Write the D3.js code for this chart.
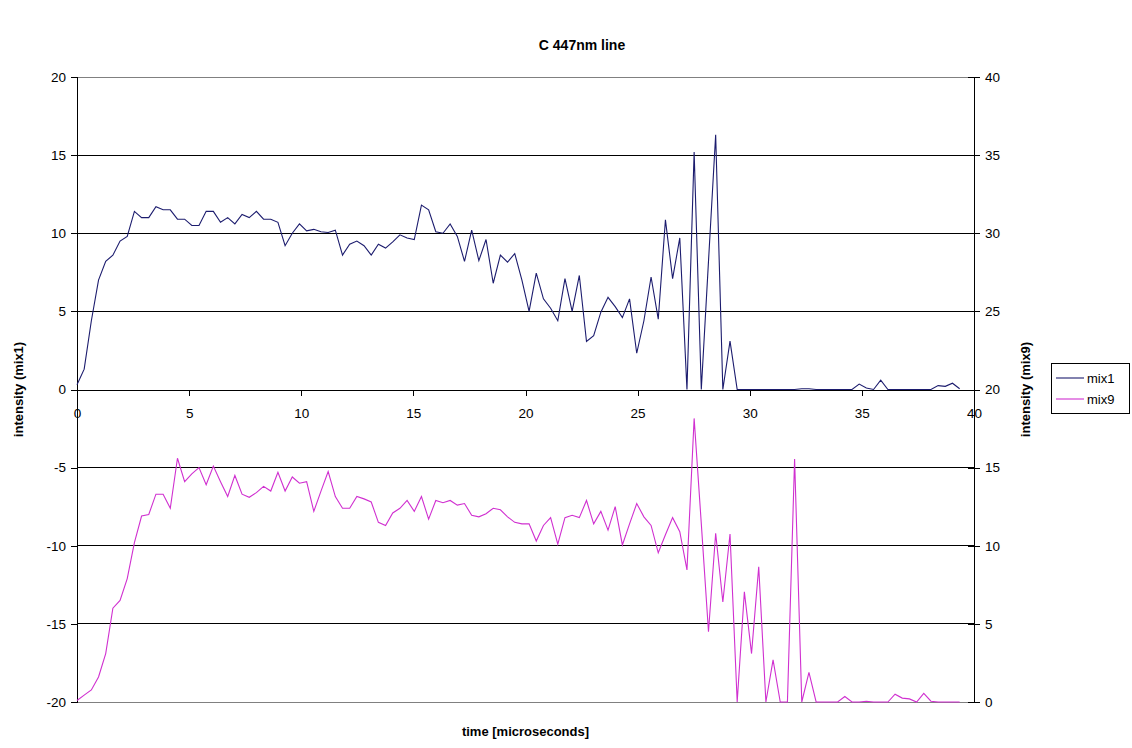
<!DOCTYPE html>
<html>
<head>
<meta charset="utf-8">
<script src="https://cdn.jsdelivr.net/npm/d3@7"></script>
<style>
  body { margin: 0; background: #fff; }
  text { font-family: "Liberation Sans", Arial, sans-serif; fill: #000; }
</style>
</head>
<body>
<div id="my_dataviz"></div>
<script>
// sample spacing (microseconds) and readings
let dt = 0.32;

let mix1 = [0.3, 1.3, 4.4, 7.0, 8.2, 8.6, 9.5, 9.8, 11.4, 11.0,
  11.0, 11.7, 11.5, 11.5, 10.9, 10.9, 10.5, 10.5, 11.4, 11.4,
  10.7, 11.0, 10.6, 11.2, 11.0, 11.4, 10.9, 10.9, 10.7, 9.2,
  10.0, 10.6, 10.15, 10.25, 10.1, 10.05, 10.2, 8.6, 9.3, 9.5,
  9.2, 8.6, 9.3, 9.05, 9.45, 9.9, 9.7, 9.6, 11.8, 11.5,
  10.1, 10.0, 10.6, 9.8, 8.2, 10.2, 8.25, 9.6, 6.8, 8.6,
  8.15, 8.7, 7.0, 5.0, 7.45, 5.8, 5.2, 4.4, 7.1, 5.0,
  7.3, 3.07, 3.45, 4.95, 5.9, 5.3, 4.6, 5.8, 2.32, 4.4,
  7.2, 4.5, 10.86, 7.1, 9.7, 0, 15.2, 0, 8.2, 16.3,
  0, 3.1, 0, 0, 0, 0, 0, 0, 0, 0,
  0, 0.05, 0.05, 0, 0, 0, 0, 0, 0, 0.35,
  0.1, 0, 0.6, 0, 0, 0, 0, 0, 0, 0,
  0.25, 0.2, 0.4, 0.05];

let mix9 = [0.1, 0.44, 0.77, 1.6, 3.1, 6.0, 6.5, 7.9, 10.2, 11.9,
  12.0, 13.3, 13.3, 12.4, 15.6, 14.1, 14.6, 15.0, 13.9, 15.1,
  14.1, 13.15, 14.5, 13.3, 13.1, 13.4, 13.8, 13.5, 14.7, 13.5,
  14.4, 14.0, 14.1, 12.2, 13.5, 14.75, 13.15, 12.4, 12.4, 13.15,
  13.0, 12.8, 11.5, 11.3, 12.1, 12.4, 12.9, 12.2, 13.15, 11.7,
  12.9, 12.75, 12.9, 12.6, 12.7, 11.95, 11.85, 12.05, 12.4, 12.3,
  11.85, 11.5, 11.4, 11.4, 10.3, 11.3, 11.8, 10.1, 11.8, 11.95,
  11.8, 12.9, 11.4, 12.2, 11.0, 12.5, 10.05, 11.4, 12.7, 11.85,
  11.3, 9.55, 10.7, 11.8, 10.9, 8.45, 18.15, 11.4, 4.5, 10.8,
  6.4, 10.75, 0, 7.05, 3.1, 8.65, 0, 2.7, 0, 0,
  15.55, 0, 1.9, 0, 0, 0, 0, 0.35, 0, 0,
  0.05, 0, 0, 0, 0.5, 0.25, 0.2, 0, 0.55, 0.05,
  0, 0, 0, 0];

let xTicks = [0, 5, 10, 15, 20, 25, 30, 35, 40];
let leftTicks = [-20, -15, -10, -5, 0, 5, 10, 15, 20];
let rightTicks = [0, 5, 10, 15, 20, 25, 30, 35, 40];

let seriesNames = ["mix1", "mix9"];
let colors = ["#1c1c6e", "#d030d0"];

let W = 1132, H = 748;
let margin = {top: 77, right: 158, bottom: 46, left: 77},
    width = W - margin.left - margin.right,
    height = H - margin.top - margin.bottom;

let svg = d3.select("#my_dataviz")
  .append("svg")
  .attr("width", W)
  .attr("height", H);

let g = svg.append("g")
  .attr("transform", "translate(" + margin.left + "," + margin.top + ")");

// scales
let x = d3.scaleLinear().domain([0, 40]).range([0, width]);
let yL = d3.scaleLinear().domain([-20, 20]).range([height, 0]);
let yR = d3.scaleLinear().domain([0, 40]).range([height, 0]);

// plain hyphen for negatives, like the original
let fmt = d => String(d);

// horizontal gridlines
g.selectAll(".grid")
  .data(leftTicks.filter(d => d > -20 && d < 20 && d !== 0))
  .enter().append("line")
  .attr("x1", 0).attr("x2", width)
  .attr("y1", d => yL(d)).attr("y2", d => yL(d))
  .attr("stroke", "#000").attr("stroke-width", 1)
  .attr("shape-rendering", "crispEdges");

// plot border top / bottom
[20, -20].forEach(v => {
  g.append("line")
    .attr("x1", 0).attr("x2", width)
    .attr("y1", yL(v)).attr("y2", yL(v))
    .attr("stroke", "#808080")
    .attr("shape-rendering", "crispEdges");
});

// left axis
let leftAxis = g.append("g")
  .call(d3.axisLeft(yL).tickValues(leftTicks).tickFormat(fmt).tickSize(6).tickPadding(5));
// right axis
let rightAxis = g.append("g")
  .attr("transform", "translate(" + width + ",0)")
  .call(d3.axisRight(yR).tickValues(rightTicks).tickFormat(fmt).tickSize(6).tickPadding(5));
rightAxis.selectAll(".tick line").attr("x1", -6);
// x axis across the middle (at mix1 = 0)
let xAxis = g.append("g")
  .attr("transform", "translate(0," + yL(0) + ")")
  .call(d3.axisBottom(x).tickValues(xTicks).tickFormat(fmt).tickSize(6).tickPadding(13));

[leftAxis, rightAxis, xAxis].forEach(a => {
  a.select(".domain").attr("stroke", "#000").attr("shape-rendering", "crispEdges");
  a.selectAll(".tick line").attr("stroke", "#000").attr("shape-rendering", "crispEdges");
  a.selectAll("text")
    .style("font-family", "'Liberation Sans', Arial, sans-serif")
    .style("font-size", "13.5px")
    .attr("fill", "#000");
});

// lines
let times = mix1.map((d, i) => i * dt);
let line1 = d3.line().x((d, i) => x(times[i])).y(d => yL(d));
let line9 = d3.line().x((d, i) => x(times[i])).y(d => yR(d));

g.append("path").datum(mix1)
  .attr("fill", "none").attr("stroke", colors[0]).attr("stroke-width", 1.1)
  .attr("d", line1);
g.append("path").datum(mix9)
  .attr("fill", "none").attr("stroke", colors[1]).attr("stroke-width", 1.1)
  .attr("d", line9);

// titles
svg.append("text")
  .attr("x", 582).attr("y", 50)
  .attr("text-anchor", "middle")
  .style("font-weight", "bold").style("font-size", "14px")
  .text("C 447nm line");

svg.append("text")
  .attr("x", margin.left + width / 2).attr("y", 736)
  .attr("text-anchor", "middle")
  .style("font-weight", "bold").style("font-size", "13px")
  .text("time [microseconds]");

svg.append("text")
  .attr("transform", "translate(23," + (margin.top + yL(0)) + ") rotate(-90)")
  .attr("text-anchor", "middle")
  .style("font-weight", "bold").style("font-size", "13px")
  .text("intensity (mix1)");

svg.append("text")
  .attr("transform", "translate(1030," + (margin.top + yL(0)) + ") rotate(-90)")
  .attr("text-anchor", "middle")
  .style("font-weight", "bold").style("font-size", "13px")
  .text("intensity (mix9)");

// legend
let legend = svg.append("g").attr("transform", "translate(1051,363)");
legend.append("rect")
  .attr("width", 78).attr("height", 50)
  .attr("fill", "#fff").attr("stroke", "#000")
  .attr("shape-rendering", "crispEdges");
seriesNames.forEach((name, i) => {
  let yy = 15 + i * 21;
  legend.append("line")
    .attr("x1", 5).attr("x2", 33)
    .attr("y1", yy).attr("y2", yy)
    .attr("stroke", colors[i]).attr("stroke-width", 1.1);
  legend.append("text")
    .attr("x", 36).attr("y", yy + 4.5)
    .style("font-size", "13px")
    .attr("fill", "#444")
    .text(name);
});
</script>
</body>
</html>
